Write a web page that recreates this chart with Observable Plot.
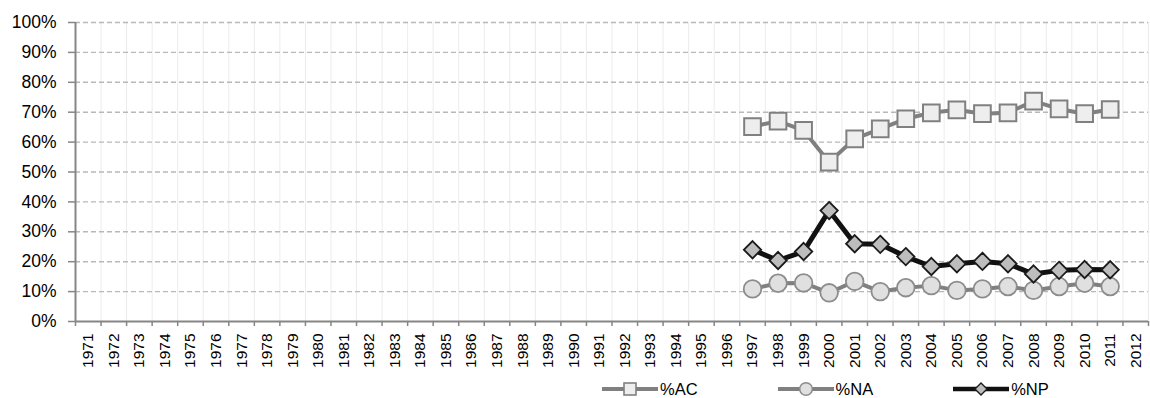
<!DOCTYPE html>
<html><head><meta charset="utf-8">
<script src="https://cdn.jsdelivr.net/npm/d3@7"></script>
<script src="https://cdn.jsdelivr.net/npm/@observablehq/plot@0.6"></script>
<style>
body{margin:0;background:#fff;}
#chart{width:1150px;}
#legend{display:flex;align-items:center;height:30px;padding-left:602px;font-family:"Liberation Sans",Arial,sans-serif;font-size:16.5px;color:#000;}
.item{display:flex;align-items:center;margin-right:80px;}
.item svg{margin-right:2px;}
</style></head><body>
<div id="chart"></div>
<div id="legend"></div>
<script>
const years = [1971,1972,1973,1974,1975,1976,1977,1978,1979,1980,1981,1982,1983,1984,1985,1986,1987,1988,1989,1990,1991,1992,1993,1994,1995,1996,1997,1998,1999,2000,2001,2002,2003,2004,2005,2006,2007,2008,2009,2010,2011,2012];
const dataYears = [1997,1998,1999,2000,2001,2002,2003,2004,2005,2006,2007,2008,2009,2010,2011];
const pctAC = [65.2,67.0,63.9,53.3,61.1,64.4,67.8,69.8,70.8,69.5,69.8,73.7,71.1,69.5,70.9];
const pctNA = [10.9,12.8,12.9,9.6,13.4,10.0,11.3,12.0,10.4,10.9,11.7,10.4,11.7,12.8,11.7];
const pctNP = [24.0,20.4,23.4,37.1,26.0,25.8,21.7,18.4,19.3,20.1,19.3,15.9,17.1,17.4,17.3];
const yTicks = [0,10,20,30,40,50,60,70,80,90,100];
const seriesNames = ["%AC","%NA","%NP"];

const rows = dataYears.map((y,i)=>({year:y, ac:pctAC[i], na:pctNA[i], np:pctNP[i]}));
const boundaries = years.map(y=>y-0.5).concat([years[years.length-1]+0.5]);
const axisColor = "#868686";
const font = "'Liberation Sans',Arial,sans-serif";

const plot = Plot.plot({
  width:1150, height:374,
  marginLeft:75, marginRight:2, marginTop:22, marginBottom:53,
  x:{type:"linear", domain:[years[0]-0.5, years[years.length-1]+0.5]},
  y:{domain:[0,100]},
  style:{fontFamily:font, background:"#fff", overflow:"visible"},
  marks:[
    Plot.gridX(boundaries.slice(1),{stroke:"#ececec", strokeOpacity:1, strokeWidth:1}),
    Plot.gridY(yTicks.slice(1),{stroke:"#b8b8b8", strokeOpacity:1, strokeDasharray:"5,3", strokeWidth:1.4}),
    Plot.axisY(yTicks,{tickFormat:d=>d+"%", tickSize:7, tickPadding:12, stroke:axisColor, strokeWidth:1.5, fill:"#000", fontSize:17.5, label:null}),
    Plot.axisX(boundaries,{tickFormat:()=>"", tickSize:5, stroke:axisColor, strokeWidth:1.5, label:null}),
    Plot.text(years,{x:d=>d, text:d=>String(d), frameAnchor:"bottom", rotate:-90, textAnchor:"end", lineAnchor:"middle", dy:12, fontSize:15.5, fill:"#000"}),
    Plot.ruleX([boundaries[0]],{stroke:axisColor, strokeWidth:2}),
    Plot.ruleY([0],{stroke:axisColor, strokeWidth:2}),
    Plot.line(rows,{x:"year", y:"ac", stroke:"#808080", strokeWidth:4}),
    Plot.dot(rows,{x:"year", y:"ac", symbol:"square", r:9.4, fill:"#eeeeee", stroke:"#808080", strokeWidth:2}),
    Plot.line(rows,{x:"year", y:"na", stroke:"#808080", strokeWidth:4}),
    Plot.dot(rows,{x:"year", y:"na", symbol:"circle", r:8.8, fill:"#e0e0e0", stroke:"#8c8c8c", strokeWidth:1.8}),
    Plot.line(rows,{x:"year", y:"np", stroke:"#111111", strokeWidth:5}),
    Plot.dot(rows,{x:"year", y:"np", symbol:"diamond2", r:7.8, fill:"#bdbdbd", stroke:"#1a1a1a", strokeWidth:1.8})
  ]
});
document.getElementById("chart").appendChild(plot);

const legendStyles = [
  {line:"#808080", lw:4, marker:'<rect x="22" y="5" width="12" height="12" fill="#eeeeee" stroke="#808080" stroke-width="1.6"/>'},
  {line:"#808080", lw:4, marker:'<circle cx="28" cy="11" r="6.3" fill="#e0e0e0" stroke="#8c8c8c" stroke-width="1.5"/>'},
  {line:"#111111", lw:4.5, marker:'<path d="M28,5 L34,11 L28,17 L22,11 Z" fill="#bdbdbd" stroke="#1a1a1a" stroke-width="1.4"/>'}
];
const legend = document.getElementById("legend");
seriesNames.forEach((name,i)=>{
  const s = legendStyles[i];
  const div = document.createElement("div");
  div.className = "item";
  div.innerHTML = `<svg width="56" height="22"><line x1="0" x2="56" y1="11" y2="11" stroke="${s.line}" stroke-width="${s.lw}"/>${s.marker}</svg><span>${name}</span>`;
  legend.appendChild(div);
});
</script>
</body></html>
